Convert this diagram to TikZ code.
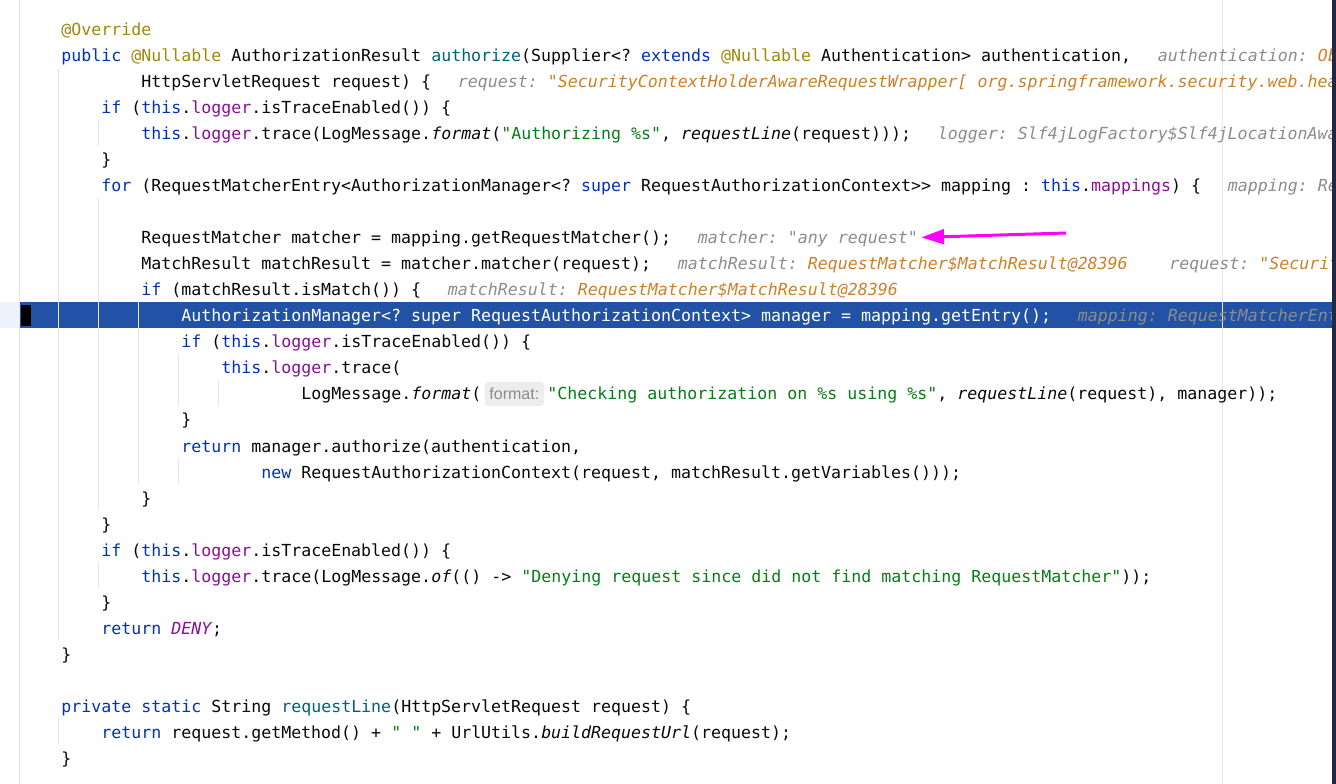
\documentclass[tikz,border=0pt]{standalone}
\usepackage{fontspec}
\setmonofont{DejaVu Sans Mono}
\newfontfamily\inlayfam{Liberation Sans}
\usetikzlibrary{arrows.meta,calc}
\definecolor{kwblue}{RGB}{0,51,179}
\definecolor{annot}{RGB}{158,136,13}
\definecolor{field}{RGB}{135,16,148}
\definecolor{strgreen}{RGB}{6,125,23}
\definecolor{declteal}{RGB}{0,98,122}
\definecolor{codeblack}{RGB}{8,8,8}
\definecolor{hintgray}{RGB}{140,140,140}
\definecolor{hintval}{RGB}{204,128,40}
\definecolor{execblue}{RGB}{33,82,165}
\definecolor{execlight}{RGB}{237,242,252}
\definecolor{guidegray}{RGB}{230,230,230}
\definecolor{barnavy}{RGB}{30,42,72}
\definecolor{inlaybg}{RGB}{237,237,237}
\definecolor{arrowpink}{RGB}{255,0,255}
\newcommand{\codefont}{\ttfamily\fontsize{12.457pt}{15pt}\selectfont}
\tikzstyle{code} = [anchor=base west, inner sep=0pt, font=\codefont, text=codeblack]
\tikzstyle{hint} = [code, font=\codefont\itshape, text=hintgray]
\tikzstyle{guide} = [draw=guidegray, line width=0.75pt]
\tikzstyle{inlay} = [anchor=west, rounded corners=2.5pt, fill=inlaybg, text=hintgray, font=\inlayfam\fontsize{12pt}{13pt}\selectfont, inner xsep=3.5pt, inner ysep=0pt, minimum height=18pt]
\tikzstyle{pointer} = [draw=arrowpink, line width=2.25pt, -{Triangle[length=17pt,width=11pt]}]
\newcommand{\kw}[1]{\textcolor{kwblue}{#1}}
\newcommand{\an}[1]{\textcolor{annot}{#1}}
\newcommand{\fd}[1]{\textcolor{field}{#1}}
\newcommand{\strg}[1]{\textcolor{strgreen}{#1}}
\newcommand{\decl}[1]{\textcolor{declteal}{#1}}
\newcommand{\stc}[1]{\textit{#1}}
\newcommand{\hv}[1]{\textcolor{hintval}{#1}}
\newcommand{\codeln}[3]{\node[code] (l#1) at ({61+10*#2},{36+26*#1}) {#3};}
\newcommand{\hintln}[2]{\node[hint] (h#1) at ([xshift=19.5pt]l#1.base east) {#2};}

\begin{document}
\begin{tikzpicture}[x=0.75pt, y=-0.75pt]
			\clip (0,0) rectangle (1336,784);
			\fill[white] (0,0) rectangle (1336,784);
			\fill[execlight] (0,302) rectangle (19,328);
			\fill[execblue] (19,302) rectangle (1332,328);
			\draw[guide] (19,0) -- (19,784);
			\draw[guide] (1222,0) -- (1222,784);
			\foreach \gx/\ra/\rb in {58/2/23, 98/4/4, 98/7/18, 138/11/17, 178/13/14, 218/14/14, 178/17/17, 98/21/21, 58/27/27}
				\draw[guide] (\gx,{16+26*\ra}) -- (\gx,{42+26*\rb});
			\fill[black] (21,305) rectangle (31,326);

			\codeln{0}{0}{\an{@Override}}
			\codeln{1}{0}{\kw{public} \an{@Nullable} AuthorizationResult \decl{authorize}(Supplier<? \kw{extends} \an{@Nullable} Authentication> authentication,}
			\hintln{1}{authentication: \hv{Ob}}
			\codeln{2}{8}{HttpServletRequest request) \{}
			\hintln{2}{request: \hv{"SecurityContextHolderAwareRequestWrapper[ org.springframework.security.web.hea}}
			\codeln{3}{4}{\kw{if} (\kw{this}.\fd{logger}.isTraceEnabled()) \{}
			\codeln{4}{8}{\kw{this}.\fd{logger}.trace(LogMessage.\stc{format}(\strg{"Authorizing \%s"}, \stc{requestLine}(request)));}
			\hintln{4}{logger: Slf4jLogFactory\$Slf4jLocationAwa}
			\codeln{5}{4}{\}}
			\codeln{6}{4}{\kw{for} (RequestMatcherEntry<AuthorizationManager<? \kw{super} RequestAuthorizationContext>> mapping : \kw{this}.\fd{mappings}) \{}
			\hintln{6}{mapping: Re}
			\codeln{8}{8}{RequestMatcher matcher = mapping.getRequestMatcher();}
			\hintln{8}{matcher: "any request"}
			\codeln{9}{8}{MatchResult matchResult = matcher.matcher(request);}
			\hintln{9}{matchResult: \hv{RequestMatcher\$MatchResult@28396}}
			\node[hint] (h9b) at ([xshift=30.75pt]h9.base east) {request: \hv{"Securit}};
			\codeln{10}{8}{\kw{if} (matchResult.isMatch()) \{}
			\hintln{10}{matchResult: \hv{RequestMatcher\$MatchResult@28396}}
			\node[code, text=white] (l11) at ({61+10*12},{36+26*11}) {AuthorizationManager<? super RequestAuthorizationContext> manager = mapping.getEntry();};
			\hintln{11}{mapping: RequestMatcherEnt}
			\codeln{12}{12}{\kw{if} (\kw{this}.\fd{logger}.isTraceEnabled()) \{}
			\codeln{13}{16}{\kw{this}.\fd{logger}.trace(}
			\codeln{14}{24}{LogMessage.\stc{format}(}
			\node[inlay] (fmt) at ([xshift=2.25pt,yshift=1.2pt]l14.east) {format:};
			\node[code] (l14b) at ($(fmt.east |- l14.base)+(3,0)$) {\strg{"Checking authorization on \%s using \%s"}, \stc{requestLine}(request), manager));};
			\codeln{15}{12}{\}}
			\codeln{16}{12}{\kw{return} manager.authorize(authentication,}
			\codeln{17}{20}{\kw{new} RequestAuthorizationContext(request, matchResult.getVariables()));}
			\codeln{18}{8}{\}}
			\codeln{19}{4}{\}}
			\codeln{20}{4}{\kw{if} (\kw{this}.\fd{logger}.isTraceEnabled()) \{}
			\codeln{21}{8}{\kw{this}.\fd{logger}.trace(LogMessage.\stc{of}(() -> \strg{"Denying request since did not find matching RequestMatcher"}));}
			\codeln{22}{4}{\}}
			\codeln{23}{4}{\kw{return} \fd{\textit{DENY}};}
			\codeln{24}{0}{\}}
			\codeln{26}{0}{\kw{private} \kw{static} String \decl{requestLine}(HttpServletRequest request) \{}
			\codeln{27}{4}{\kw{return} request.getMethod() + \strg{" "} + UrlUtils.\stc{buildRequestUrl}(request);}
			\codeln{28}{0}{\}}

			\coordinate (tail) at (1066,233);
			\draw[pointer] (tail) -- ([xshift=2.5pt,yshift=1.5pt]h8.east);
			\fill[barnavy] (1332,0) rectangle (1336,784);
		\end{tikzpicture}
\end{document}
